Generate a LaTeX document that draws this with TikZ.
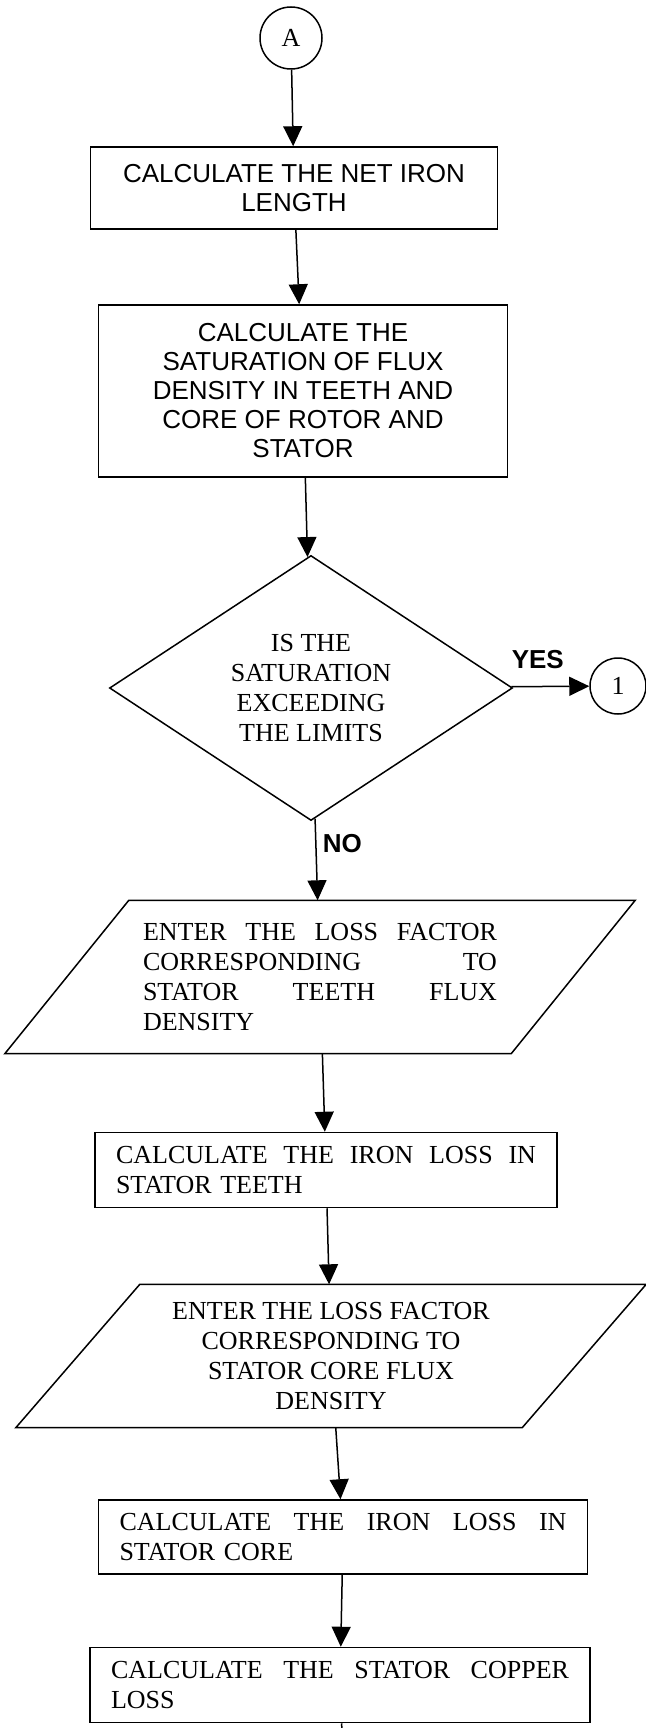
\documentclass[tikz,border=0pt]{standalone}
\usepackage{fontspec}
\setmainfont{Liberation Serif}
\setsansfont{Liberation Sans}
\usetikzlibrary{arrows.meta,shapes.geometric}
\pgfdeclarelayer{nodelayer}
\pgfdeclarelayer{edgelayer}
\pgfsetlayers{edgelayer,nodelayer,main}
\newcommand{\flowserif}{\rmfamily\fontsize{26}{30}\selectfont}
\newcommand{\flowsans}{\sffamily\fontsize{26}{29}\selectfont}
\newcommand{\flowbold}{\sffamily\bfseries\fontsize{26}{29}\selectfont}
\newcommand{\spread}[1]{{\spaceskip=0pt\relax\xspaceskip=0pt\relax\makebox[\hsize][s]{#1}}}
\tikzstyle{connector}=[fill=white, draw=black, line width=1.5pt, shape=circle, inner sep=0pt, font=\flowserif]
\tikzstyle{process sans}=[fill=white, draw=black, line width=1.5pt, shape=rectangle, align=center, font=\flowsans]
\tikzstyle{process}=[fill=white, draw=black, line width=1.5pt, shape=rectangle, align=left, inner xsep=21pt, font=\flowserif]
\tikzstyle{decision}=[fill=white, draw=black, line width=1.5pt, shape=diamond, aspect=1.52, inner sep=0pt, align=center, font=\flowserif]
\tikzstyle{data}=[fill=none, draw=none, shape=rectangle, inner sep=0pt, font=\flowserif]
\tikzstyle{data outline}=[draw=black, line width=1.5pt, line join=miter]
\tikzstyle{none}=[fill=none, draw=none, shape=circle, scale=0]
\tikzstyle{answer}=[fill=none, draw=none, font=\flowbold]
\tikzstyle{flow edge}=[draw=black, line width=1.5pt, -{Triangle[width=19pt,length=20pt]}]
\tikzstyle{plain edge}=[draw=black, line width=1.5pt]

\begin{document}
\begin{tikzpicture}[x=1pt, y=-1pt]
	\useasboundingbox (0, 0) rectangle (645, 1728);
	\begin{pgfonlayer}{nodelayer}
		\node [style=connector, minimum size=62pt] (0) at (291, 38) {A};
		\node [style=process sans, minimum width=407pt, minimum height=82pt] (1) at (294, 188) {CALCULATE THE NET IRON\\LENGTH};
		\node [style=process sans, minimum width=409pt, minimum height=172pt] (2) at (303, 391) {CALCULATE THE\\SATURATION OF FLUX\\DENSITY IN TEETH AND\\CORE OF ROTOR AND\\STATOR};
		\node [style=decision, minimum width=403pt, minimum height=265pt] (3) at (311, 688) {IS THE\\SATURATION\\EXCEEDING\\THE LIMITS};
		\node [style=connector, minimum size=56pt] (4) at (618, 686) {1};
		\node [style=data, minimum width=506pt, minimum height=153pt, text width=354pt, align=left] (5) at (320, 977) {\spread{ENTER THE LOSS FACTOR}\\\spread{CORRESPONDING TO}\\\spread{STATOR TEETH FLUX}\\DENSITY};
		\draw [style=data outline] ([xshift=-62pt]5.south west) -- ([xshift=-62pt]5.south east) -- ([xshift=62pt]5.north east) -- ([xshift=62pt]5.north west) -- cycle;
		\node [style=process, text width=420pt, minimum width=462pt, minimum height=75pt] (6) at (326, 1170) {\spread{CALCULATE THE IRON LOSS IN}\\STATOR TEETH};
		\node [style=data, minimum width=506pt, minimum height=143pt, align=center] (7) at (331, 1356) {ENTER THE LOSS FACTOR\\CORRESPONDING TO\\STATOR CORE FLUX\\DENSITY};
		\draw [style=data outline] ([xshift=-62pt]7.south west) -- ([xshift=-62pt]7.south east) -- ([xshift=62pt]7.north east) -- ([xshift=62pt]7.north west) -- cycle;
		\node [style=process, text width=447pt, minimum width=489pt, minimum height=74pt] (8) at (343, 1537) {\spread{CALCULATE THE IRON LOSS IN}\\STATOR CORE};
		\node [style=process, text width=458pt, minimum width=500pt, minimum height=75pt] (9) at (340, 1685) {\spread{CALCULATE THE STATOR COPPER}\\LOSS};
		\node [style=none] (10) at (342, 1732) {};
	\end{pgfonlayer}
	\begin{pgfonlayer}{edgelayer}
		\draw [style=flow edge] (0) to (1);
		\draw [style=flow edge] (1) to (2);
		\draw [style=flow edge] (2) to (3);
		\draw [style=flow edge] (3) to node [style=answer, above=14pt, pos=0.34] {YES} (4);
		\draw [style=flow edge] (3) to node [style=answer, right=3pt, pos=0.31] {NO} (5);
		\draw [style=flow edge] (5) to (6);
		\draw [style=flow edge] (6) to (7);
		\draw [style=flow edge] (7) to (8);
		\draw [style=flow edge] (8) to (9);
		\draw [style=plain edge] (9) to (10.center);
	\end{pgfonlayer}
\end{tikzpicture}
\end{document}
